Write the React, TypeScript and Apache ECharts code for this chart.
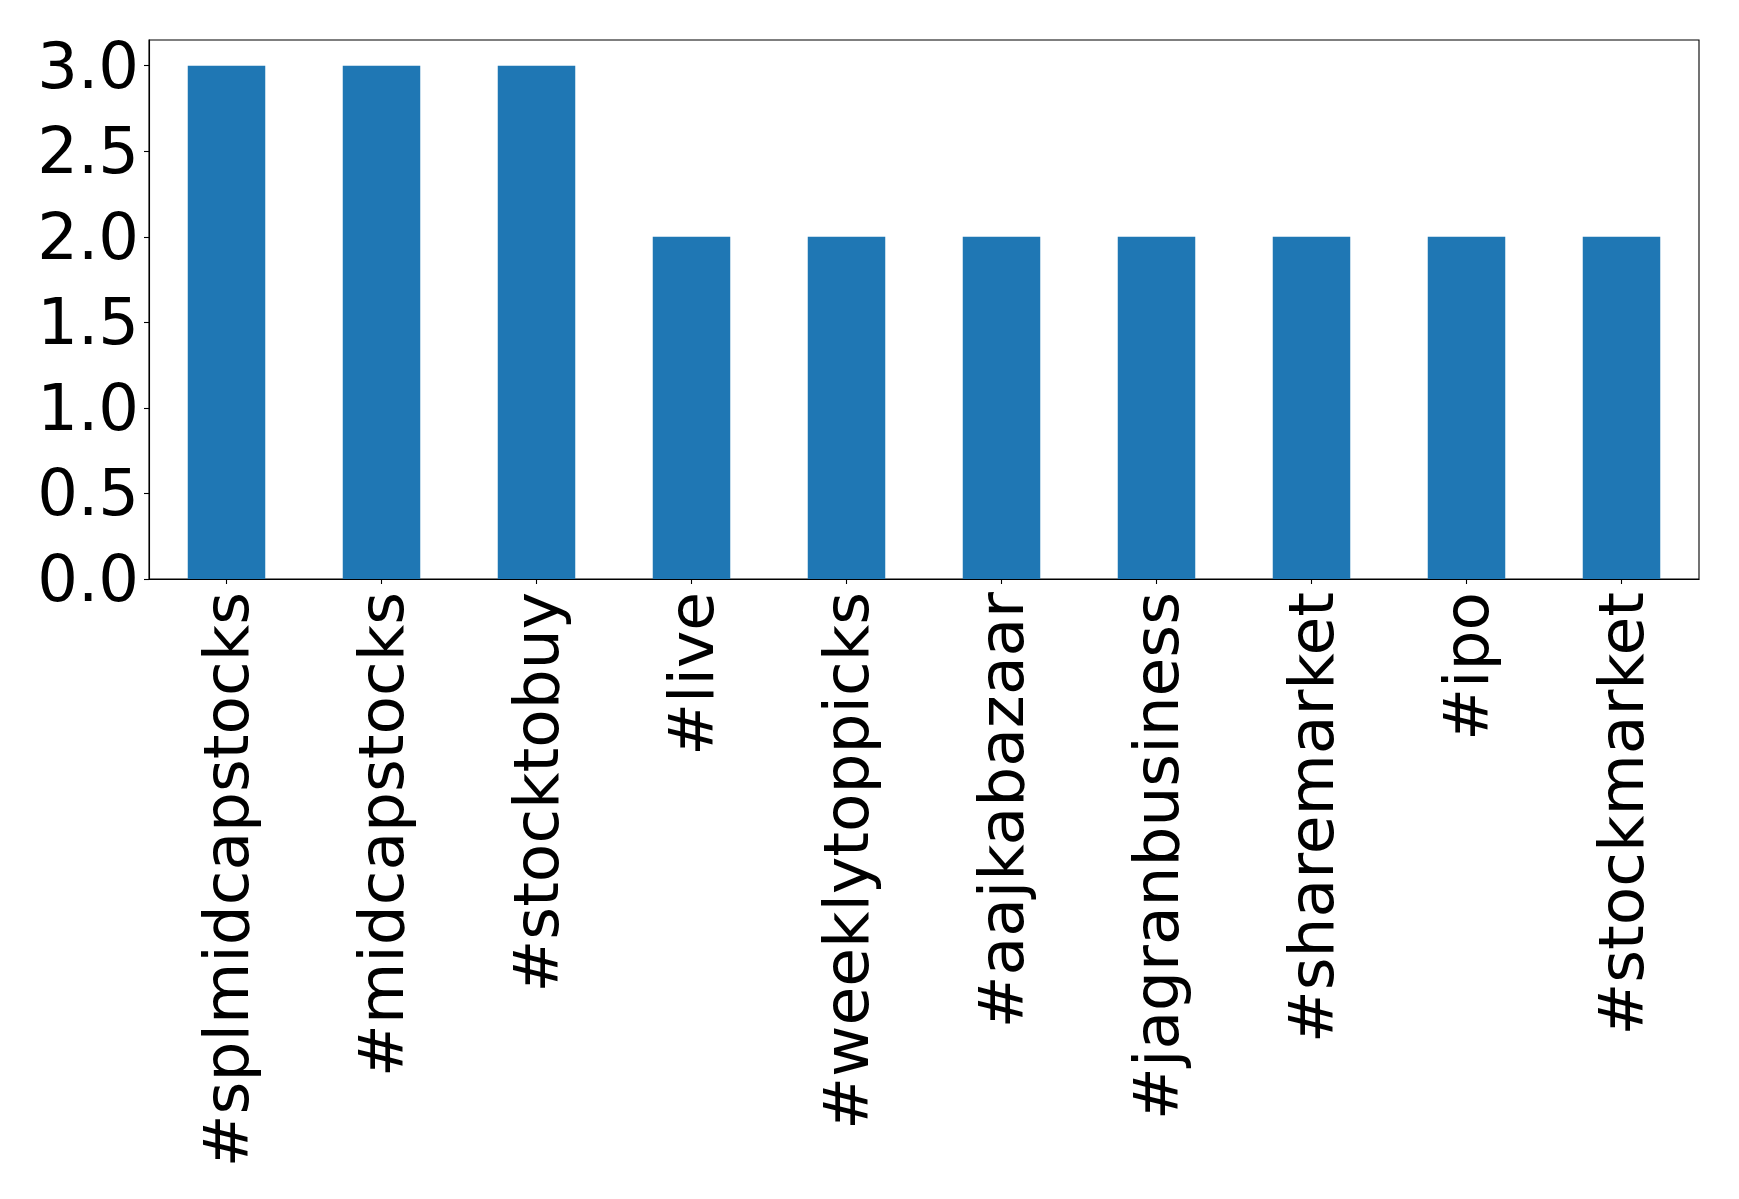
import React, { useEffect, useRef } from "react";
import * as echarts from "echarts";

const categories = [
  "#splmidcapstocks",
  "#midcapstocks",
  "#stocktobuy",
  "#live",
  "#weeklytoppicks",
  "#aajkabazaar",
  "#jagranbusiness",
  "#sharemarket",
  "#ipo",
  "#stockmarket",
];
const counts = [3, 3, 3, 2, 2, 2, 2, 2, 2, 2];
const yTicks = [0, 0.5, 1.0, 1.5, 2.0, 2.5, 3.0];

export default function App() {
  const ref = useRef<HTMLDivElement>(null);
  useEffect(() => {
    if (!ref.current) return;
    const chart = echarts.init(ref.current, null, { renderer: "svg" });
    const font = "DejaVu Sans";
    chart.setOption({
      animation: false,
      backgroundColor: "#ffffff",
      grid: {
        left: 149,
        right: 40,
        top: 40,
        bottom: 620,
        show: true,
        borderColor: "#000000",
        borderWidth: 1.1,
        backgroundColor: "transparent",
      },
      xAxis: {
        type: "category",
        data: categories,
        axisLine: { show: true, lineStyle: { color: "#000", width: 1.1 } },
        axisTick: { show: true, alignWithLabel: true, length: 5, lineStyle: { color: "#000", width: 1.1 } },
        axisLabel: {
          rotate: 90,
          fontSize: 63,
          fontFamily: font,
          color: "#000",
          margin: 13,
          interval: 0,
        },
        splitLine: { show: false },
      },
      yAxis: {
        type: "value",
        min: 0,
        max: 3.15,
        axisLine: { show: true, lineStyle: { color: "#000", width: 1.1 } },
        axisTick: { show: true, length: 5, customValues: yTicks, lineStyle: { color: "#000", width: 1.1 } },
        axisLabel: {
          customValues: yTicks,
          fontSize: 64,
          fontFamily: font,
          color: "#000",
          margin: 10,
          formatter: (v: number) => v.toFixed(1),
        },
        splitLine: { show: false },
      },
      series: [
        {
          type: "bar",
          data: counts,
          barWidth: "50%",
          itemStyle: { color: "#1f77b4" },
        },
      ],
    });
    return () => chart.dispose();
  }, []);
  return (
    <div
      ref={ref}
      style={{ position: "fixed", left: 0, top: 0, width: 1739, height: 1199 }}
    />
  );
}
